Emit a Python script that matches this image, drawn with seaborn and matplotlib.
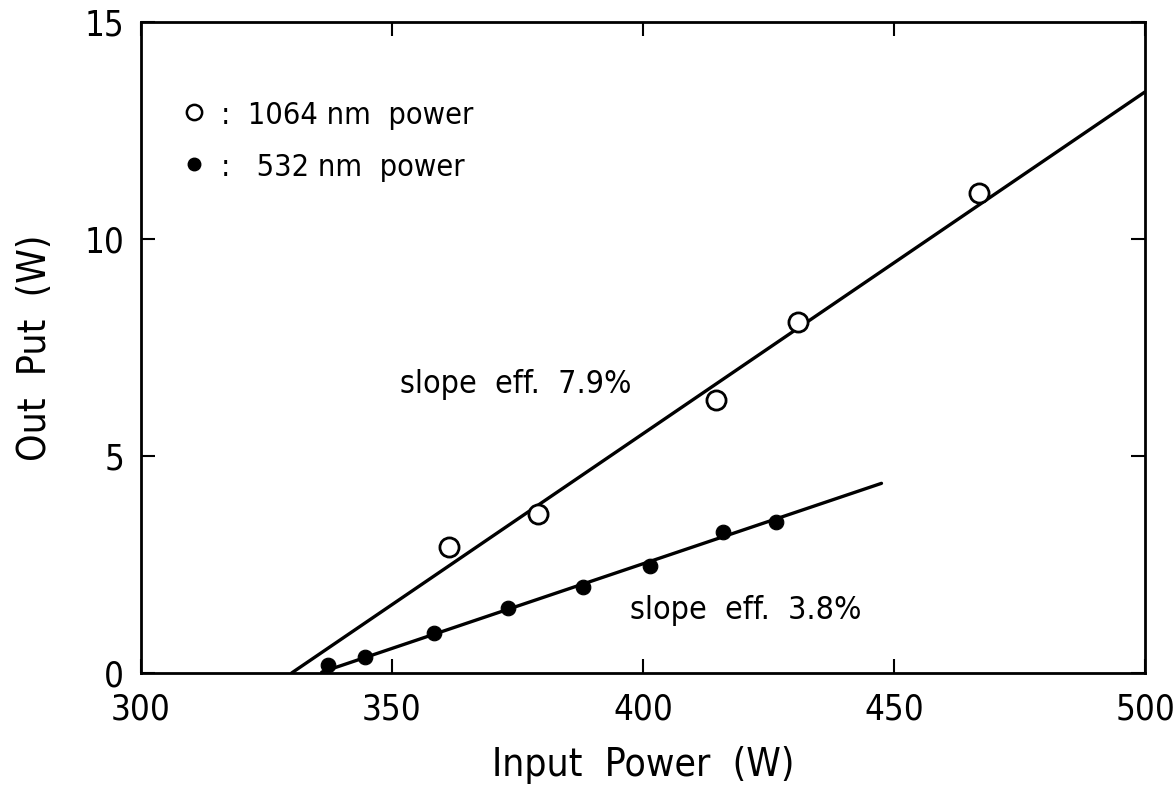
import matplotlib
matplotlib.use("Agg")
import matplotlib.pyplot as plt
from matplotlib.lines import Line2D
import seaborn as sns
import pandas as pd

# Data
in_1064 = [361.4, 379.1, 414.5, 430.9, 467.0]
out_1064 = [2.91, 3.66, 6.29, 8.09, 11.07]
in_532 = [337.2, 344.6, 358.4, 373.2, 388.1, 401.4, 416.0, 426.4]
out_532 = [0.18, 0.38, 0.93, 1.49, 1.99, 2.47, 3.24, 3.49]
fit_in_1064 = [330.0, 500.0]
fit_out_1064 = [0.0, 13.39]
fit_in_532 = [336.0, 447.5]
fit_out_532 = [0.02, 4.37]
x_ticks = [300, 350, 400, 450, 500]
y_ticks = [0, 5, 10, 15]
legend_labels = [":  1064 nm  power", ":   532 nm  power"]

sns.set_theme(style="ticks")
plt.rcParams['font.family'] = ['DejaVu Sans']
plt.rcParams['font.stretch'] = 'condensed'
plt.rcParams['text.color'] = 'black'
plt.rcParams['axes.labelcolor'] = 'black'
plt.rcParams['xtick.color'] = 'black'
plt.rcParams['ytick.color'] = 'black'

fig = plt.figure(figsize=(11.75, 7.94), dpi=100)
ax = fig.add_axes([0.12, 0.1524, 0.8545, 0.8199])

d1 = pd.DataFrame({"x": in_1064, "y": out_1064})
d2 = pd.DataFrame({"x": in_532, "y": out_532})
f1 = pd.DataFrame({"x": fit_in_1064, "y": fit_out_1064})
f2 = pd.DataFrame({"x": fit_in_532, "y": fit_out_532})

sns.lineplot(data=f1, x="x", y="y", ax=ax, color="black", linewidth=2.4, zorder=2)
sns.lineplot(data=f2, x="x", y="y", ax=ax, color="black", linewidth=2.4, zorder=2)
sns.scatterplot(data=d1, x="x", y="y", ax=ax, marker="o", s=190,
                facecolor="white", edgecolor="black", linewidth=2.0, zorder=3)
sns.scatterplot(data=d2, x="x", y="y", ax=ax, marker="o", s=110,
                color="black", edgecolor="black", zorder=3)

ax.set_xlim(300, 500)
ax.set_ylim(0, 15)
ax.set_xticks(x_ticks)
ax.set_yticks(y_ticks)
ax.tick_params(direction="in", length=10, width=1.5, labelsize=25,
               top=True, right=True)
ax.tick_params(axis="x", pad=14)
ax.tick_params(axis="y", pad=12)
for s in ax.spines.values():
    s.set_linewidth(2)
    s.set_color("black")

ax.set_xlabel("Input  Power  (W)", fontsize=28, labelpad=14)
ax.set_ylabel("Out  Put  (W)", fontsize=28, labelpad=22)

ax.text(351.6, 6.64, "slope  eff.  7.9%", fontsize=23, va="center", ha="left")
ax.text(397.4, 1.45, "slope  eff.  3.8%", fontsize=23, va="center", ha="left")

handles = [
    Line2D([], [], linestyle="none", marker="o", markersize=11,
           markerfacecolor="white", markeredgecolor="black", markeredgewidth=1.8),
    Line2D([], [], linestyle="none", marker="o", markersize=9,
           markerfacecolor="black", markeredgecolor="black"),
]
ax.legend(handles, legend_labels, loc="upper left", bbox_to_anchor=(0.025, 0.898),
          frameon=False, fontsize=22, handletextpad=0.4, labelspacing=0.75,
          borderaxespad=0, handlelength=1.0, handleheight=0.8)

fig.savefig("out.png", dpi=100)
